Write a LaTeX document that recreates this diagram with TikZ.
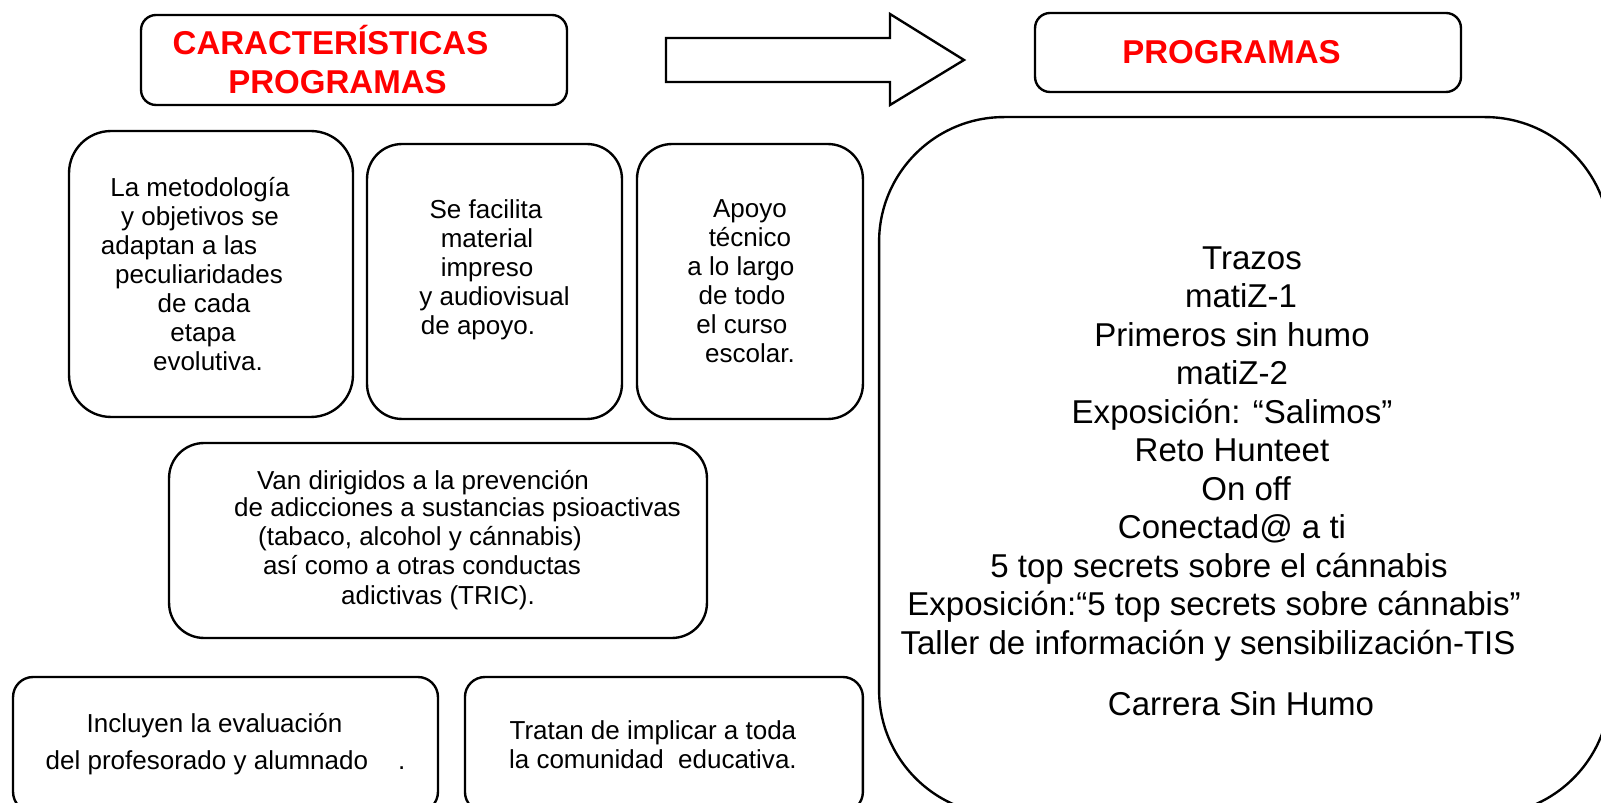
\documentclass[tikz,border=0pt]{standalone}
\usepackage{fontspec}
\setmainfont{Liberation Sans}
\usetikzlibrary{positioning}
\newcommand{\linepad}[1]{\rule{#1}{0pt}}
\tikzset{
  base/.style={font=\fontsize{14.8}{16.5}\selectfont, align=center, inner sep=2pt, outer sep=0mm},
  block/.style={rectangle, draw=black, line width=1.35pt, rounded corners=0.7cm, base},
  titlebox/.style={rectangle, draw=black, line width=1.35pt, rounded corners=0.3cm, minimum width=8.52cm, align=center, text=red, font=\fontsize{18.8}{22.2}\selectfont\bfseries, inner sep=2pt, outer sep=0mm},
  listtext/.style={font=\fontsize{18.8}{21.9}\selectfont, align=center, inner sep=0pt}
}

\begin{document}
\begin{tikzpicture}[x=0.02cm, y=-0.02cm]
  \useasboundingbox (0,0) rectangle (1601,803);
  \clip (0,0) rectangle (1601,803);

  % titles
  \node[titlebox, minimum height=1.8cm] (charTitle) at (354,60) {CARACTERÍSTICAS\linepad{0.94cm}\\PROGRAMAS\linepad{0.66cm}};
  \node[titlebox, minimum height=1.58cm] (progTitle) at (1248,52.5) {PROGRAMAS\linepad{0.66cm}};

  % big arrow between the titles
  \draw[line width=1.35pt] (666,38) -- (890,38) -- (890,14) -- (964,60) -- (890,105) -- (890,82) -- (666,82) -- cycle;

  % characteristics
  \node[block, rounded corners=0.84cm, minimum width=5.68cm, minimum height=5.72cm] (metodo) at (211,274) {La metodología\linepad{0.44cm}\\y objetivos se\linepad{0.44cm}\\adaptan a las\linepad{1.28cm}\\peculiaridades\linepad{0.48cm}\\de cada\linepad{0.28cm}\\etapa\linepad{0.32cm}\\evolutiva.\linepad{0.12cm}};
  \node[block, minimum width=5.1cm, minimum height=5.5cm] (material) at (494.5,281.5) {Se facilita\linepad{0.34cm}\\material\linepad{0.3cm}\\impreso\linepad{0.3cm}\\y audiovisual\\de apoyo.\linepad{0.66cm}\\\mbox{}};
  \node[block, minimum width=4.52cm, minimum height=5.5cm, right=0.3cm of material] (apoyo) {Apoyo\\técnico\\a lo largo\linepad{0.36cm}\\de todo\linepad{0.32cm}\\el curso\linepad{0.32cm}\\escolar.};
  \node[block, minimum width=10.76cm, minimum height=3.9cm] (dirigidos) at (438,540.5) {Van dirigidos a la prevención\linepad{0.6cm}\\[-0.05cm]\linepad{0.78cm}de adicciones a sustancias psioactivas\\(tabaco, alcohol y cánnabis)\linepad{0.72cm}\\así como a otras conductas\linepad{0.64cm}\\[0.03cm]adictivas (TRIC).};
  \node[block, rounded corners=0.4cm, minimum width=8.5cm, minimum height=2.7cm] (evalua) at (225.5,744.5) {Incluyen la evaluación\linepad{0.44cm}\\[0.16cm]del profesorado y alumnado\hspace*{0.6cm}.};
  \node[block, rounded corners=0.4cm, minimum width=7.96cm, minimum height=2.7cm, right=0.54cm of evalua] (implicar) {Tratan de implicar a toda\linepad{0.44cm}\\la comunidad~ educativa.\linepad{0.44cm}};

  % programs
  \node[block, rounded corners=2.5cm, minimum width=14.62cm, minimum height=13.96cm] (programas) at (1244.5,466) {};
  \node[listtext] (lista) at ([xshift=-0.25cm, yshift=-0.3cm]programas.center) {\linepad{0.8cm}Trazos\\
    \linepad{0.36cm}matiZ-1\\
    Primeros sin humo\\
    matiZ-2\\
    Exposición: “Salimos”\\
    Reto Hunteet\\
    \linepad{0.56cm}On off\\
    Conectad@ a ti\\
    5 top secrets sobre el cánnabis\linepad{0.52cm}\\
    Exposición:“5 top secrets sobre cánnabis”\linepad{0.72cm}\\
    Taller de información y sensibilización-TIS\linepad{0.96cm}\\[0.45cm]
    \linepad{0.36cm}Carrera Sin Humo};
\end{tikzpicture}
\end{document}
